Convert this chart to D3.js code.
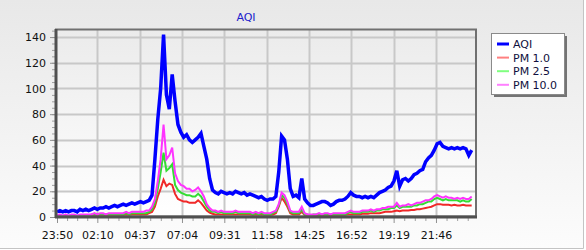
<!DOCTYPE html>
<html>
<head>
<meta charset="utf-8">
<script src="https://cdn.jsdelivr.net/npm/d3@7"></script>
<style>
  html, body { margin: 0; padding: 0; background: #fff; }
  #chart { width: 586px; height: 250px; }
  text { font-family: "DejaVu Sans", Verdana, sans-serif; }
</style>
</head>
<body>
<div id="chart"></div>
<script>
// data, one sample every 10 minutes from 23:50
const startTime = "23:50";
const stepMinutes = 10;
const tickLabels = ["23:50", "02:10", "04:37", "07:04", "09:31", "11:58", "14:25", "16:52", "19:19", "21:46"];
const yTicks = [0, 20, 40, 60, 80, 100, 120, 140];
const seriesNames = ["AQI", "PM 1.0", "PM 2.5", "PM 10.0"];

const aqi = [
  4, 5, 4, 5, 4, 5, 5, 4, 6, 5,
  6, 5, 6, 7, 6, 7, 7, 8, 7, 8,
  9, 8, 9, 10, 9, 10, 11, 10, 11, 12,
  11, 12, 13, 17, 45, 76, 100, 142, 95, 84,
  111, 90, 72, 66, 62, 64, 60, 58, 60, 62,
  65, 55, 45, 30, 21, 19, 18, 20, 19, 18,
  19, 18, 20, 19, 18, 19, 17, 18, 17, 16,
  15, 16, 14, 13, 14, 14, 16, 35, 63, 60,
  45, 22, 16, 17, 15, 30, 14, 11, 9, 9,
  10, 11, 12, 12, 11, 9, 10, 12, 13, 13,
  14, 16, 19, 17, 16, 16, 15, 16, 15, 16,
  15, 17, 19, 20, 21, 23, 24, 28, 36, 24,
  29, 30, 28, 30, 33, 34, 36, 37, 43, 46,
  48, 52, 57, 58, 55, 54, 53, 54, 53, 54,
  53, 54, 53, 48, 52
];

const pm1 = [
  0.5, 1, 0.5, 1, 0.5, 1, 1, 0.5, 1, 1,
  1, 1, 1, 1, 1, 1, 1, 1, 1, 1.5,
  1, 1.5, 1, 1.5, 2, 1.5, 2, 2, 2, 2,
  2, 2, 3, 4, 8, 16, 22, 29, 24, 26,
  25, 18, 14, 13, 12, 12, 11, 11, 11, 13,
  11, 8, 5, 3.5, 2.5, 2, 2, 2, 2, 2,
  2, 2, 2, 2, 2, 2, 2, 2, 1.5, 2,
  1.5, 2, 1.5, 1.5, 1.5, 2, 3, 8, 15, 12,
  8, 3, 2, 2, 2, 4, 1.5, 1, 1, 1,
  1, 1, 1, 1, 1, 1, 1, 1.5, 1.5, 1.5,
  1.5, 2, 2, 2, 2, 2, 2.5, 2.5, 2.5, 3,
  3, 3, 3, 3.5, 4, 4, 4, 4.5, 5, 4.5,
  5, 5, 5, 5.5, 5.5, 6, 6, 6.5, 7, 7.5,
  8, 9, 10, 10, 9.5, 9.5, 9.5, 9, 9.5, 9,
  9, 9.5, 9, 9, 9
];

const pm25 = [
  1, 1, 1, 1, 1, 1, 1, 1, 1, 1,
  1, 1, 2, 2, 2, 2, 2, 2, 2, 2,
  2, 2, 2, 2, 3, 2, 3, 3, 3, 3,
  3, 3, 4, 6, 11, 22, 35, 50, 36, 38,
  41, 25, 21, 19, 18, 17, 17, 16, 16, 18,
  16, 12, 8, 5, 4, 4, 3, 4, 3, 3,
  3, 3, 4, 3, 3, 3, 3, 3, 2, 3,
  2, 3, 2, 2, 2, 3, 4, 9, 17, 15,
  10, 4, 3, 3, 3, 6, 2, 2, 1, 2,
  2, 2, 2, 2, 2, 2, 2, 2, 2, 2,
  2, 3, 4, 3, 3, 3, 4, 4, 4, 5,
  4, 5, 5, 6, 6, 6, 7, 7, 9, 7,
  8, 8, 8, 8, 9, 9, 10, 10, 11, 12,
  12, 14, 15, 14, 13, 14, 13, 13, 13, 13,
  12, 13, 12, 12, 14
];

const pm10 = [
  1, 2, 1, 2, 1, 2, 2, 1, 2, 2,
  2, 2, 2, 3, 2, 3, 3, 2, 3, 3,
  3, 3, 3, 3, 4, 3, 4, 4, 4, 4,
  4, 5, 5, 8, 14, 28, 45, 72, 45, 48,
  54, 34, 28, 25, 24, 22, 22, 20, 21, 23,
  20, 16, 10, 7, 5, 5, 4, 5, 4, 4,
  4, 4, 5, 4, 4, 4, 4, 4, 3, 4,
  3, 4, 3, 3, 3, 4, 5, 10, 19, 17,
  12, 5, 4, 4, 4, 8, 3, 2, 2, 2,
  2, 3, 2, 3, 3, 2, 3, 3, 3, 3,
  3, 4, 5, 4, 4, 4, 5, 5, 5, 6,
  5, 6, 6, 7, 7, 8, 8, 8, 11, 8,
  9, 9, 10, 9, 10, 11, 11, 12, 13, 13,
  14, 16, 17, 16, 15, 16, 15, 15, 14, 15,
  14, 15, 14, 14, 16
];

const lineColors = ["#0000ff", "#f02828", "#33dd33", "#ff33ff"];
const legendColors = ["#0000ff", "#ff8080", "#80ff80", "#ff80ff"];
const lineWidths = [3.5, 2, 2, 2];

function toMinutes(label) {
  const [h, m] = label.split(":").map(Number);
  const [h0, m0] = startTime.split(":").map(Number);
  return ((h * 60 + m) - (h0 * 60 + m0) + 1440) % 1440;
}

function drawChart() {
  const width = 586, height = 250;
  const plot = { left: 57, right: 476, top: 30, bottom: 217 };

  const svg = d3.select("#chart").append("svg")
    .attr("width", width)
    .attr("height", height);

  const defs = svg.append("defs");
  const bg = defs.append("linearGradient").attr("id", "bg")
    .attr("x1", 0).attr("y1", 0).attr("x2", 0).attr("y2", 1);
  bg.append("stop").attr("offset", "0%").attr("stop-color", "#e8e8e8");
  bg.append("stop").attr("offset", "100%").attr("stop-color", "#fcfcfc");
  const pg = defs.append("linearGradient").attr("id", "pg")
    .attr("x1", 0).attr("y1", 0).attr("x2", 0).attr("y2", 1);
  pg.append("stop").attr("offset", "0%").attr("stop-color", "#ebebeb");
  pg.append("stop").attr("offset", "100%").attr("stop-color", "#ffffff");

  svg.append("rect").attr("width", 583).attr("height", 248).attr("fill", "url(#bg)");
  svg.append("line").attr("x1", 583.5).attr("x2", 583.5).attr("y1", 0).attr("y2", 248.5)
    .attr("stroke", "#c4c4c4");
  svg.append("line").attr("x1", 0).attr("x2", 583.5).attr("y1", 248.5).attr("y2", 248.5)
    .attr("stroke", "#c4c4c4");

  const x = d3.scaleLinear().domain([0, 1455]).range([plot.left, plot.right]);
  const y = d3.scaleLinear().domain([0, 145.5]).range([plot.bottom, plot.top]);

  svg.append("rect")
    .attr("x", plot.left).attr("y", plot.top)
    .attr("width", plot.right - plot.left).attr("height", plot.bottom - plot.top)
    .attr("fill", "url(#pg)");

  const xTicks = tickLabels.map(toMinutes);
  const xMinor = [];
  for (let i = 1; i < xTicks.length; i++) {
    const a = xTicks[i - 1], b = xTicks[i];
    for (let k = 1; k < 4; k++) xMinor.push(a + (b - a) * k / 4);
  }
  const step = xTicks[2] - xTicks[1];
  for (let k = 1; k < 4; k++) xMinor.push(xTicks[xTicks.length - 1] + step * k / 4);

  // grid
  svg.append("g").selectAll("line").data(yTicks.slice(1)).join("line")
    .attr("x1", plot.left).attr("x2", plot.right)
    .attr("y1", d => Math.round(y(d)) + 0.5).attr("y2", d => Math.round(y(d)) + 0.5)
    .attr("stroke", "#c8c8c8").attr("stroke-width", 2);
  svg.append("g").selectAll("line").data(xTicks.slice(1)).join("line")
    .attr("x1", d => Math.round(x(d)) + 0.5).attr("x2", d => Math.round(x(d)) + 0.5)
    .attr("y1", plot.top).attr("y2", plot.bottom)
    .attr("stroke", "#c8c8c8").attr("stroke-width", 2);

  // series
  const series = [aqi, pm1, pm25, pm10];
  const line = d3.line()
    .x((d, i) => x(i * stepMinutes))
    .y(d => y(d));
  series.forEach((values, s) => {
    svg.append("path")
      .datum(values)
      .attr("fill", "none")
      .attr("stroke", lineColors[s])
      .attr("stroke-width", lineWidths[s])
      .attr("stroke-linejoin", "miter")
      .attr("d", line);
  });

  // frame
  svg.append("rect")
    .attr("x", plot.left - 1).attr("y", plot.top - 0.5)
    .attr("width", plot.right - plot.left + 1).attr("height", plot.bottom - plot.top)
    .attr("fill", "none").attr("stroke", "#707070").attr("stroke-width", 2);

  // axes
  const yAxis = d3.axisLeft(y).tickValues(yTicks).tickSize(5).tickPadding(4);
  const yMinor = d3.axisLeft(y).tickValues(d3.range(0, 146, 5)).tickSize(3).tickFormat("");
  svg.append("g").attr("transform", `translate(${plot.left - 2},0)`).call(yMinor)
    .call(g => g.select(".domain").remove())
    .call(g => g.selectAll("line").attr("stroke", "#a0a0a0"));
  svg.append("g").attr("transform", `translate(${plot.left - 2},0)`).call(yAxis)
    .call(g => g.select(".domain").remove())
    .call(g => g.selectAll("line").attr("stroke", "#909090"))
    .call(g => g.selectAll("text").attr("font-size", 11).attr("fill", "#111")
      .attr("font-family", "DejaVu Sans"));

  const xAxis = d3.axisBottom(x).tickValues(xTicks)
    .tickFormat((d, i) => tickLabels[i]).tickSize(5).tickPadding(8);
  const xMinorAxis = d3.axisBottom(x).tickValues(xMinor).tickSize(3).tickFormat("");
  svg.append("g").attr("transform", `translate(0,${plot.bottom + 1})`).call(xMinorAxis)
    .call(g => g.select(".domain").remove())
    .call(g => g.selectAll("line").attr("stroke", "#a0a0a0"));
  svg.append("g").attr("transform", `translate(0,${plot.bottom + 1})`).call(xAxis)
    .call(g => g.select(".domain").remove())
    .call(g => g.selectAll("line").attr("stroke", "#909090"))
    .call(g => g.selectAll("text").attr("font-size", 11).attr("fill", "#111")
      .attr("font-family", "DejaVu Sans"));

  svg.append("line")
    .attr("x1", plot.left - 1).attr("x2", plot.left - 1)
    .attr("y1", plot.top - 1).attr("y2", plot.bottom + 1)
    .attr("stroke", "#505050").attr("stroke-width", 3);
  svg.append("line")
    .attr("x1", plot.left - 2).attr("x2", plot.right + 1)
    .attr("y1", plot.bottom).attr("y2", plot.bottom)
    .attr("stroke", "#505050").attr("stroke-width", 3);

  // title
  svg.append("text")
    .attr("x", 246).attr("y", 21)
    .attr("text-anchor", "middle")
    .attr("font-size", 11)
    .attr("fill", "#2020cc")
    .text("AQI");

  // legend
  const lg = svg.append("g").attr("transform", "translate(491,33)");
  lg.append("rect").attr("x", 3).attr("y", 3).attr("width", 73).attr("height", 61)
    .attr("fill", "#555").attr("opacity", 0.8);
  lg.append("rect").attr("x", 0.5).attr("y", 0.5).attr("width", 73).attr("height", 61)
    .attr("fill", "#fff").attr("stroke", "#8a8a8a");
  const items = lg.selectAll("g.item").data(seriesNames).join("g")
    .attr("class", "item")
    .attr("transform", (d, i) => `translate(0,${11 + i * 13.6})`);
  items.append("line")
    .attr("x1", 6).attr("x2", 18)
    .attr("stroke", (d, i) => legendColors[i])
    .attr("stroke-width", (d, i) => i === 0 ? 3 : 2);
  items.append("text")
    .attr("x", 22).attr("y", 4)
    .attr("font-size", 11)
    .attr("fill", "#101040")
    .text(d => d);
}

drawChart();
</script>
</body>
</html>
